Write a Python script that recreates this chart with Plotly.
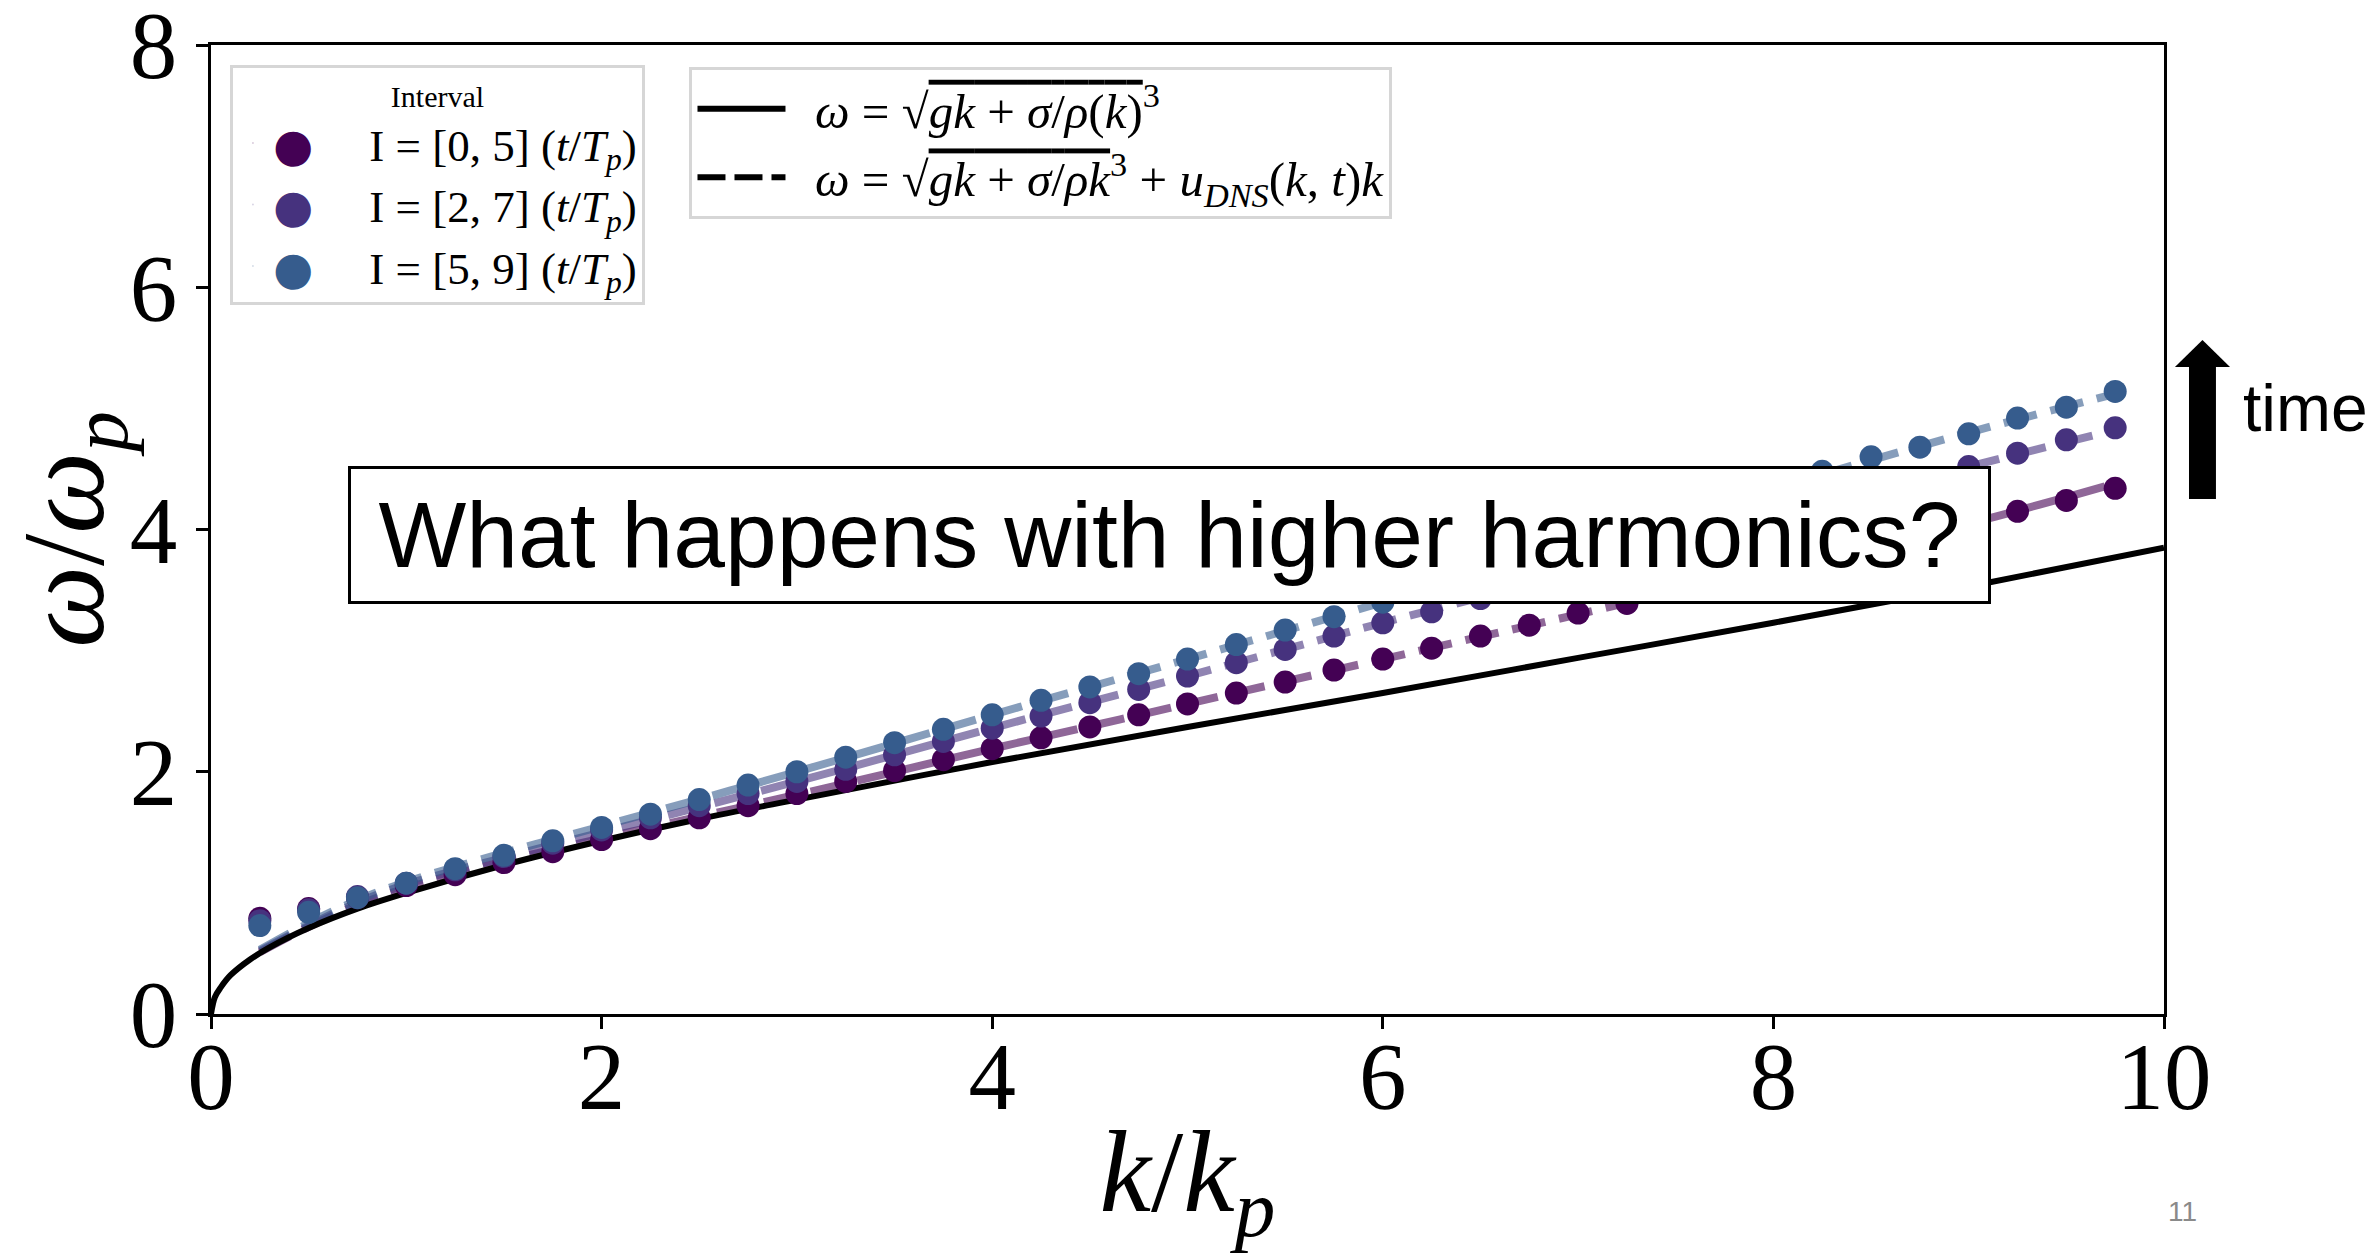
import plotly.graph_objects as go

# ---------------- data ----------------
k_pts = [0.25, 0.5, 0.75, 1.0, 1.25, 1.5, 1.75, 2.0, 2.25, 2.5, 2.75, 3.0, 3.25,
         3.5, 3.75, 4.0, 4.25, 4.5, 4.75, 5.0, 5.25, 5.5, 5.75, 6.0, 6.25, 6.5,
         6.75, 7.0, 7.25, 7.5, 7.75, 8.0, 8.25, 8.5, 8.75, 9.0, 9.25, 9.5, 9.75]

w_I05 = [0.79, 0.87, 0.96, 1.06, 1.15, 1.25, 1.34, 1.44, 1.53, 1.62, 1.72, 1.82, 1.92,
         2.01, 2.10, 2.19, 2.28, 2.37, 2.47, 2.56, 2.65, 2.74, 2.84, 2.93, 3.02, 3.12,
         3.21, 3.31, 3.39, 3.49, 3.58, 3.68, 3.77, 3.87, 3.96, 4.05, 4.15, 4.24, 4.34]
w_I27 = [0.77, 0.86, 0.97, 1.08, 1.19, 1.30, 1.41, 1.52, 1.62, 1.72, 1.82, 1.92, 2.02,
         2.14, 2.25, 2.36, 2.46, 2.57, 2.68, 2.79, 2.90, 3.01, 3.12, 3.23, 3.32, 3.43,
         3.54, 3.65, 3.76, 3.87, 3.98, 4.09, 4.20, 4.31, 4.42, 4.52, 4.63, 4.74, 4.84]
w_I59 = [0.73, 0.84, 0.96, 1.08, 1.20, 1.31, 1.43, 1.54, 1.65, 1.77, 1.89, 2.00, 2.12,
         2.24, 2.35, 2.47, 2.59, 2.70, 2.81, 2.93, 3.05, 3.17, 3.28, 3.40, 3.52, 3.64,
         3.76, 3.88, 4.00, 4.12, 4.24, 4.36, 4.48, 4.60, 4.68, 4.79, 4.92, 5.01, 5.14]

k_fit = [0.25, 0.5, 0.75, 1.0, 1.5, 2.0, 3.0, 4.0, 5.0, 6.0, 7.0, 8.0, 9.0, 9.75]
fit_I05 = [0.51, 0.72, 0.90, 1.04, 1.26, 1.45, 1.81, 2.19, 2.56, 2.93, 3.30, 3.68, 4.05, 4.38]
fit_I27 = [0.52, 0.73, 0.92, 1.07, 1.29, 1.50, 1.92, 2.36, 2.79, 3.23, 3.65, 4.09, 4.52, 4.82]
fit_I59 = [0.53, 0.75, 0.94, 1.09, 1.33, 1.55, 2.00, 2.47, 2.93, 3.40, 3.87, 4.34, 4.80, 5.12]

k_theory = [0.0, 0.02, 0.05, 0.1, 0.2, 0.3, 0.5, 0.75, 1.0, 1.5, 2.0, 2.5, 3.0,
            4.0, 5.0, 6.0, 7.0, 8.0, 9.0, 10.0]
w_theory = [0.0, 0.14, 0.22, 0.32, 0.45, 0.55, 0.71, 0.87, 1.0, 1.23, 1.43, 1.61, 1.77,
            2.08, 2.37, 2.65, 2.94, 3.23, 3.53, 3.85]

interval_texts = ["I = [0, 5] (<i>t</i>/<i>T</i><sub><i>p</i></sub>)",
                  "I = [2, 7] (<i>t</i>/<i>T</i><sub><i>p</i></sub>)",
                  "I = [5, 9] (<i>t</i>/<i>T</i><sub><i>p</i></sub>)"]
colors = ["#440154", "#46327e", "#365c8d"]
fit_colors = ["rgba(68,1,84,0.6)", "rgba(70,50,126,0.6)", "rgba(54,92,141,0.6)"]

NB = "\u00a0"
OL = "<span style='text-decoration:overline'>"
label_solid = NB * 2 + "<i>ω</i> = √" + OL + "<i>gk</i> + <i>σ</i>/<i>ρ</i>(<i>k</i>)</span><sup>3</sup>"
label_dash = (NB * 2 + "<i>ω</i> = √" + OL + "<i>gk</i> + <i>σ</i>/<i>ρk</i></span><sup>3</sup> + "
              "<i>u</i><sub><i>DNS</i></sub>(<i>k</i>, <i>t</i>)<i>k</i>")

SERIF = "Liberation Serif, Times New Roman, serif"
SANS = "Liberation Sans, Arial, sans-serif"

fig = go.Figure()

series = [w_I05, w_I27, w_I59]
fits = [fit_I05, fit_I27, fit_I59]

# dashed fits
for f, c in zip(fits, fit_colors):
    fig.add_trace(go.Scatter(x=k_fit, y=f, mode="lines",
                             line=dict(color=c, width=8, dash="34px,14px", shape="spline"),
                             showlegend=False, hoverinfo="skip"))
# theory line
fig.add_trace(go.Scatter(x=k_theory, y=w_theory, mode="lines",
                         line=dict(color="black", width=6, shape="spline"),
                         showlegend=False, hoverinfo="skip"))
# dots
for s, c in zip(series, colors):
    fig.add_trace(go.Scatter(x=k_pts, y=s, mode="markers",
                             marker=dict(color=c, size=23, line=dict(width=0)),
                             showlegend=False))

# legend entries (legend 1): big coloured dot glyph + label
for i, (lab, c) in enumerate(zip(interval_texts, colors)):
    name = ("<span style='color:%s;font-family:DejaVu Sans;font-size:46px'>●</span>" % c) + NB * 5 + lab
    fig.add_trace(go.Scatter(x=[None], y=[None], mode="markers", name=name, legend="legend",
                             legendgroup="g%d" % i, marker=dict(color=c, size=1, opacity=0)))
# legend entries (legend 2)
fig.add_trace(go.Scatter(x=[None], y=[None], mode="lines", name=label_solid, legend="legend2",
                         legendgroup="s", line=dict(color="black", width=6)))
fig.add_trace(go.Scatter(x=[None], y=[None], mode="lines", name=label_dash, legend="legend2",
                         legendgroup="d", line=dict(color="black", width=6, dash="28px,9px")))

axis_common = dict(showline=True, linecolor="black", linewidth=2.5, mirror=True, ticks="outside",
                   ticklen=12, tickwidth=2.5, tickcolor="black", showgrid=False, zeroline=False,
                   ticklabeloverflow="allow", automargin=False,
                   tickfont=dict(family=SERIF, size=95, color="black"))

fig.update_layout(
    width=2377, height=1254,
    margin=dict(l=211, r=213, t=45, b=240, autoexpand=False),
    paper_bgcolor="white", plot_bgcolor="white",
    xaxis=dict(range=[0, 10], tickvals=[0, 2, 4, 6, 8, 10], **axis_common,
               ticklabelstandoff=-34,
               title=dict(text="<i>k</i>/<i>k</i><sub><i>p</i></sub>",
                          font=dict(family=SERIF, size=116, color="black"), standoff=2)),
    yaxis=dict(range=[0, 8], tickvals=[0, 2, 4, 6, 8], **axis_common,
               title=dict(text="<i>ω</i>/<i>ω</i><sub><i>p</i></sub>",
                          font=dict(family=SERIF, size=116, color="black"), standoff=6)),
    legend=dict(x=0.0097, y=0.979, xanchor="left", yanchor="top", bgcolor="white", bordercolor="#d6d6d6",
                borderwidth=3, font=dict(family=SERIF, size=45, color="black"), tracegroupgap=0,
                itemwidth=30,
                title=dict(text="Interval", side="top center", font=dict(family=SERIF, size=30, color="black"))),
    legend2=dict(x=0.245, y=0.977, xanchor="left", yanchor="top", bgcolor="white", bordercolor="#d6d6d6",
                 borderwidth=3, font=dict(family=SERIF, size=49, color="black"), tracegroupgap=2,
                 itemwidth=88),
    showlegend=True,
)

fig.add_annotation(x=0.4908, y=0.4943, xref="paper", yref="paper", xanchor="center", yanchor="middle",
                   text="What happens with higher harmonics?", showarrow=False,
                   font=dict(family=SANS, size=93, color="black"), bgcolor="white",
                   bordercolor="black", borderwidth=3, width=1635, height=130, align="center")

# time arrow (shaft + head), paper coordinates
fig.add_shape(type="rect", xref="paper", yref="paper", x0=1.0128, x1=1.0266, y0=0.5315, y1=0.6680,
              fillcolor="black", line=dict(width=0))
fig.add_shape(type="path", xref="paper", yref="paper",
              path="M 1.0056 0.6677 L 1.0338 0.6677 L 1.0197 0.6956 Z",
              fillcolor="black", line=dict(width=0))
fig.add_annotation(x=1.0395, y=0.625, xref="paper", yref="paper", xanchor="left", yanchor="middle",
                   text="time", showarrow=False, font=dict(family=SANS, size=66, color="black"))
# page number
fig.add_annotation(x=1.0, y=-0.204, xref="paper", yref="paper", xanchor="center", yanchor="middle",
                   text="11", showarrow=False, font=dict(family=SANS, size=28, color="#8a8a8a"), xshift=18)

fig.write_html("out.html")
